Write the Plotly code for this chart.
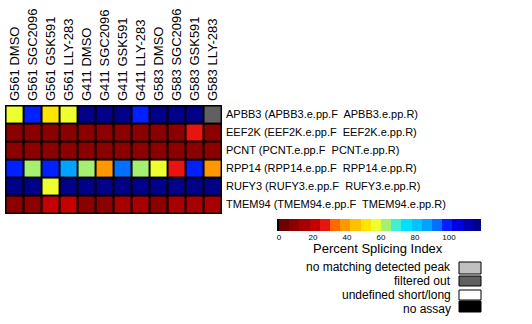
import plotly.graph_objects as go

W, H = 532, 324

samples = ["G561 DMSO", "G561 SGC2096", "G561 GSK591", "G561 LLY-283",
           "G411 DMSO", "G411 SGC2096", "G411 GSK591", "G411 LLY-283",
           "G583 DMSO", "G583 SGC2096", "G583 GSK591", "G583 LLY-283"]

events = ["APBB3 (APBB3.e.pp.F\u00a0 APBB3.e.pp.R)",
          "EEF2K (EEF2K.e.pp.F\u00a0 EEF2K.e.pp.R)",
          "PCNT (PCNT.e.pp.F\u00a0 PCNT.e.pp.R)",
          "RPP14 (RPP14.e.pp.F\u00a0 RPP14.e.pp.R)",
          "RUFY3 (RUFY3.e.pp.F\u00a0 RUFY3.e.pp.R)",
          "TMEM94 (TMEM94.e.pp.F\u00a0 TMEM94.e.pp.R)"]

# Percent Splicing Index per event (None = not a PSI value)
psi_apbb3 = [56, 99, 51, 56, 117, 117, 117, 99, 117, 117, 117, None]
psi_eef2k = [8, 8, 8, 8, 8, 8, 8, 8, 8, 8, 27, 8]
psi_pcnt = [8, 8, 8, 8, 8, 8, 8, 8, 8, 8, 8, 8]
psi_rpp14 = [99, 62, 99, 87, 62, 40, 93, 62, 56, 27, 99, 40]
psi_rufy3 = [117, 117, 56, 117, 117, 117, 117, 117, 117, 117, 117, 117]
psi_tmem94 = [8, 9, 20, 20, 8, 8, 14, 14, 8, 14, 14, 14]

# status codes: 1 = filtered out
status_apbb3 = [None] * 11 + [1]

# colour scale blocks (discrete, 20 blocks over 0-120)
block_colors = ["#700000", "#8c0000", "#a80000", "#c40000", "#e81410",
                "#ff6a00", "#ff9800", "#ffc000", "#ffe400", "#eeff30",
                "#a4f070", "#40f0d0", "#00e0ff", "#00c4ff", "#00a4ff",
                "#0070ff", "#0020ff", "#0000e0", "#0000b0", "#000088"]
cb_ticks = [0, 20, 40, 60, 80, 100]

legend_labels = ["no matching detected peak", "filtered out",
                 "undefined short/long", "no assay"]
legend_colors = ["#c0c0c0", "#606060", "#ffffff", "#000000"]

ZMIN, ZMAX = 0, 120
nb = len(block_colors)
cs = []
for i, c in enumerate(block_colors):
    cs.append([i / nb, c])
    cs.append([(i + 1) / nb, c])

z = [psi_apbb3, psi_eef2k, psi_pcnt, psi_rpp14, psi_rufy3, psi_tmem94]
zstat = [status_apbb3] + [[None] * 12 for _ in range(5)]

fig = go.Figure()
fig.add_trace(go.Heatmap(z=z, x=samples, y=events, colorscale=cs, zmin=ZMIN, zmax=ZMAX,
                         showscale=False, xgap=2, ygap=2, hoverongaps=False))
fig.add_trace(go.Heatmap(z=zstat, x=samples, y=events,
                         colorscale=[[0, "#606060"], [1, "#606060"]],
                         showscale=False, xgap=2, ygap=2, hoverongaps=False))

# colour bar drawn as heatmap
step = (ZMAX - ZMIN) / nb
centers = [ZMIN + step * (i + 0.5) for i in range(nb)]
fig.add_trace(go.Heatmap(z=[centers], x=centers, y=[0], colorscale=cs, zmin=ZMIN, zmax=ZMAX,
                         showscale=False, xaxis="x2", yaxis="y2"))

def px(x):
    return x / W

def py(y):
    return 1 - y / H

fig.update_layout(
    width=W, height=H, margin=dict(l=0, r=0, t=0, b=0),
    paper_bgcolor="white", plot_bgcolor="black",
    font=dict(family="Liberation Sans, Arial", color="black"),
    xaxis=dict(domain=[px(5), px(222)], side="top", tickangle=-90, showgrid=False,
               zeroline=False, ticks="", tickfont=dict(size=13), range=[-0.53, 11.53],
               ticklabelstandoff=3),
    yaxis=dict(domain=[py(214), py(105)], side="right", showgrid=False, zeroline=False,
               ticks="", tickfont=dict(size=11), range=[5.53, -0.53],
               ticklabelstandoff=3),
    xaxis2=dict(domain=[px(277), px(481)], anchor="y2", range=[-1.2, 118.8],
                tickvals=cb_ticks, ticks="", tickfont=dict(size=8), showgrid=False,
                zeroline=False, ticklabelstandoff=0),
    yaxis2=dict(domain=[py(231), py(219)], anchor="x2", showticklabels=False,
                showgrid=False, zeroline=False, range=[-0.5, 0.5]),
)

fig.add_annotation(text="Percent Splicing Index", x=px(378), y=py(248), xref="paper", yref="paper",
                   showarrow=False, font=dict(size=13), xanchor="center", yanchor="middle")

box_tops = [262, 276, 290, 301]
box_bots = [274, 286, 300, 312]
text_y = [267, 281, 295, 309]
for lab, col, t, b, ty in zip(legend_labels, legend_colors, box_tops, box_bots, text_y):
    fig.add_shape(type="rect", xref="paper", yref="paper", x0=px(459), x1=px(481),
                  y0=py(b), y1=py(t), fillcolor=col, line=dict(color="black", width=1))
    fig.add_annotation(text=lab, x=px(453), y=py(ty), xref="paper", yref="paper",
                       showarrow=False, font=dict(size=12), xanchor="right", yanchor="middle")

fig.write_html("out.html")
